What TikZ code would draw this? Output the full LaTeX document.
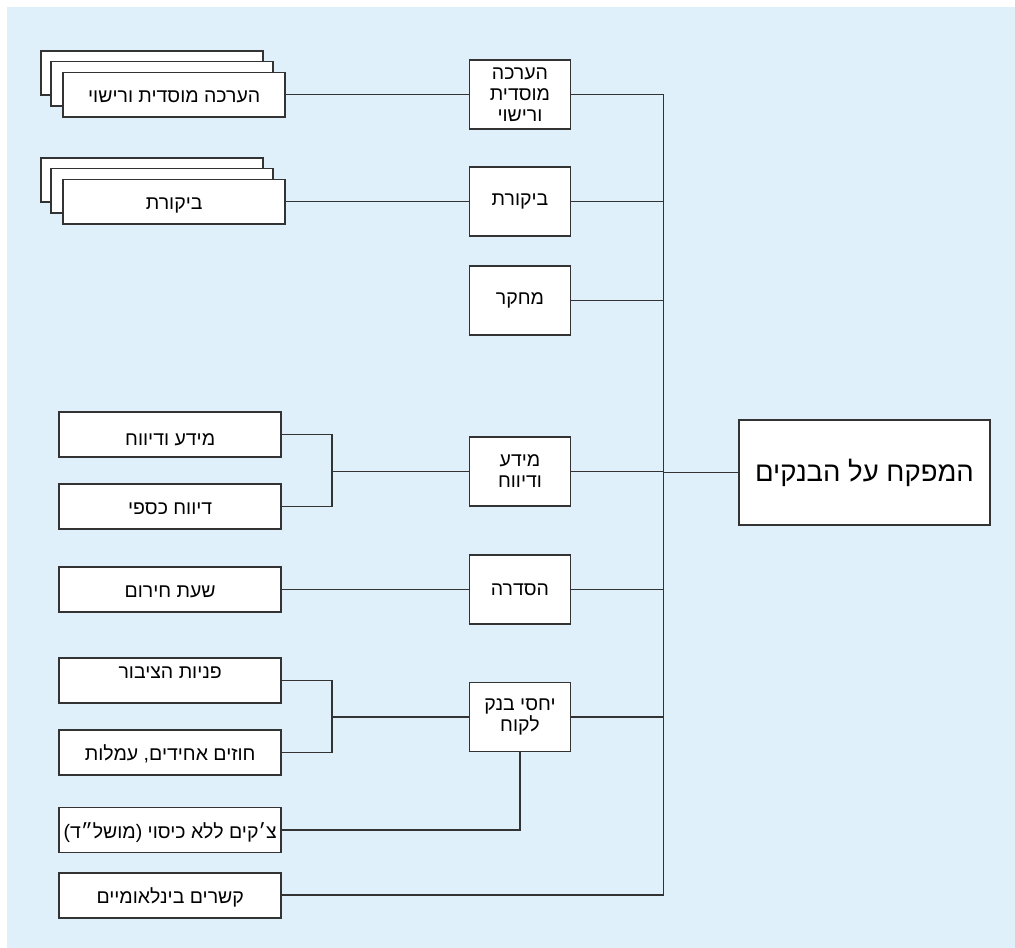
\documentclass[tikz,border=0pt]{standalone}
\usepackage{fontspec}
\setmainfont{Liberation Sans}
\newfontfamily\hebfont[Script=Hebrew]{Liberation Sans}
\TeXXeTstate=1
\newcommand{\heb}[1]{\beginR #1\endR}
\definecolor{bgblue}{HTML}{DFF0FB}
\definecolor{linegray}{HTML}{333333}
\tikzset{
  box/.style={draw=linegray,fill=white,line width=1.6pt,minimum width=101pt,
    minimum height=69pt,inner sep=2pt,align=center,
    font=\hebfont\fontsize{19.5}{21}\selectfont},
  leaf/.style={box,minimum width=222pt,minimum height=45pt,
    text height=19pt,text depth=2.5pt},
  link/.style={draw=linegray,line width=1.6pt},
}

\begin{document}
\begin{tikzpicture}[x=1pt,y=-1pt]
\useasboundingbox (0,0) rectangle (1015,948);
\fill[bgblue] (7,7) rectangle (1015,948);

% main box
\node[box,minimum width=251pt,minimum height=105pt,
  font=\hebfont\fontsize{27.5}{30}\selectfont] (boss) at (864.5,472.5) {\heb{המפקח על הבנקים}};

% middle column
\def\mx{520}
\node[box] (lic)  at (\mx,94.5)  {\heb{הערכה}\\\heb{מוסדית}\\\heb{ורישוי}};
\node[box] (aud)  at (\mx,201.5) {\heb{ביקורת}};
\node[box] (res)  at (\mx,300.5) {\heb{מחקר}};
\node[box] (info) at (\mx,471.5) {\heb{מידע}\\\heb{ודיווח}};
\node[box] (reg)  at (\mx,589.5) {\heb{הסדרה}};
\node[box] (cust) at (\mx,717)   {\heb{יחסי בנק}\\\heb{לקוח}};

% stacked boxes on the left
\foreach \y in {94.5,201.5}{
  \foreach \dx/\dy in {22.5/21.5,12.5/10.8}
    \draw[link,fill=white] (63.3-\dx,\y-22.2-\dy) rectangle ++(222,44.4);
}
\node[leaf,minimum height=44.4pt] (licl) at (174.2,94.5)  {\heb{הערכה מוסדית ורישוי}};
\node[leaf,minimum height=44.4pt] (audl) at (174.2,201.5) {\heb{ביקורת}};

% left boxes
\def\lx{170.2}
\node[leaf,text height=24pt,text depth=1.5pt] (infoa) at (\lx,434.5) {\heb{מידע ודיווח}};
\node[leaf] (infob) at (\lx,506.3) {\heb{דיווח כספי}};
\node[leaf] (emer)  at (\lx,589.5) {\heb{שעת חירום}};
\node[leaf,text height=1pt,text depth=4.5pt] (pub) at (\lx,680.5) {\heb{פניות הציבור}};
\node[leaf] (cont)  at (\lx,752.5) {\heb{חוזים אחידים, עמלות}};
\node[leaf] (chq)   at (\lx,830)   {\heb{צ׳קים ללא כיסוי (מושל״ד)}};
\node[leaf] (intl)  at (\lx,895.2) {\heb{קשרים בינלאומיים}};

% connectors
\coordinate (trunk) at (663.5,0);
\coordinate (jl) at (331.7,0);
\draw[link] (lic.east) -| (trunk |- intl.east) -- (intl.east);
\foreach \n in {aud,res,info,reg,cust}
  \draw[link] (\n.east) -- (trunk |- \n.east);
\draw[link] (trunk |- boss.west) -- (boss.west);

\draw[link] (licl.east) -- (lic.west);
\draw[link] (audl.east) -- (aud.west);
\draw[link] (emer.east) -- (reg.west);
\draw[link] (infoa.east) -| (jl |- infob.east) -- (infob.east);
\draw[link] (jl |- info.west) -- (info.west);
\draw[link] (pub.east) -| (jl |- cont.east) -- (cont.east);
\draw[link] (jl |- cust.west) -- (cust.west);
\draw[link] (cust.south) |- (chq.east);

\end{tikzpicture}
\end{document}
